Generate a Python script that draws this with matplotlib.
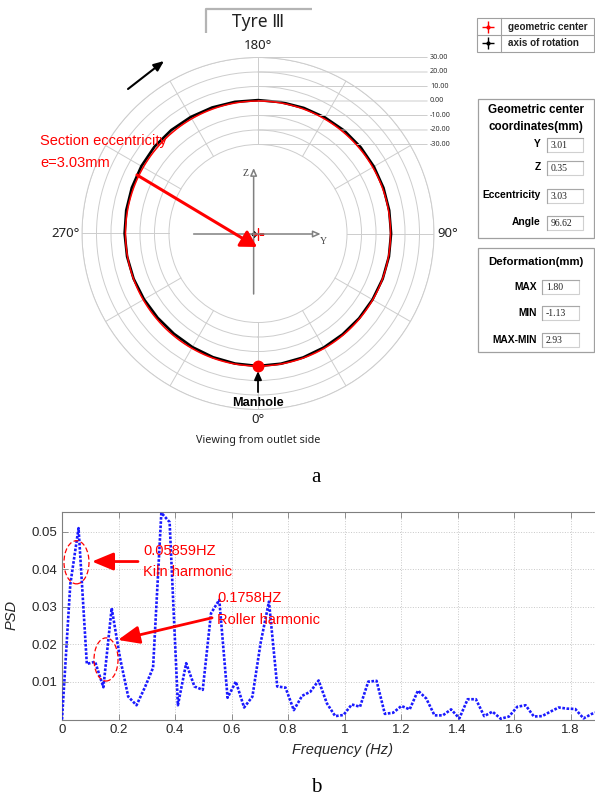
import numpy as np
import matplotlib
matplotlib.use("Agg")
import matplotlib.pyplot as plt
from matplotlib.patches import Rectangle, Ellipse

# ---------------- data ----------------
# panel a: measured tyre section, deviation from the fitted circle (mm), every 10 deg
prof_angle = list(range(0, 370, 10))
prof_dev = [0.0, -0.2, -0.4, -0.6, -0.6, -0.4, -0.2, 0.1, 0.3, 0.4,
            0.5, 0.7, 0.9, 1.1, 1.2, 1.0, 0.8, 0.6, 0.6, 0.8,
            1.1, 1.4, 1.7, 1.8, 1.5, 1.2, 0.9, 0.6, 0.3, -0.1,
            -0.6, -1.0, -1.13, -0.9, -0.6, -0.3, 0.0]
fit_r = 0.0
ring_vals = [30, 20, 10, 0, -10, -20, -30]
ring_labels = ["30.00", "20.00", "10.00", "0.00", "-10.00", "-20.00", "-30.00"]
r_centre = -91.4          # ring value at the centre of the plot
theta_ticks = [0, 90, 180, 270]
theta_labels = ["0°", "90°", "180°", "270°"]
ecc = 3.03
ecc_angle = 96.62
centre_rows = [("Y", "3.01"), ("Z", "0.35"), ("Eccentricity", "3.03"), ("Angle", "96.62")]
deform_rows = [("MAX", "1.80"), ("MIN", "-1.13"), ("MAX-MIN", "2.93")]

# panel b: PSD, FFT bins of 30/1024 Hz
df = 30 / 1024
psd = [0.0, 0.036, 0.051, 0.0148, 0.0154, 0.0086, 0.0297, 0.0165, 0.0061, 0.0038,
       0.0085, 0.0138, 0.0551, 0.0526, 0.0038, 0.0150, 0.0088, 0.0079, 0.0283, 0.0319,
       0.0058, 0.0101, 0.0032, 0.0061, 0.0205, 0.0314, 0.0088, 0.0085, 0.0025, 0.0063,
       0.0074, 0.0104, 0.0043, 0.0009, 0.0012, 0.0040, 0.0034, 0.0101, 0.0103, 0.0015,
       0.0018, 0.0036, 0.0027, 0.0077, 0.0056, 0.0011, 0.0011, 0.0027, 0.0003, 0.0054,
       0.0054, 0.0009, 0.0021, 0.0002, 0.0008, 0.0034, 0.0038, 0.0008, 0.0009, 0.0021,
       0.0032, 0.0029, 0.0028, 0.0003, 0.0015, 0.0022]
freq = np.arange(len(psd)) * df
xticks = [0, 0.2, 0.4, 0.6, 0.8, 1.0, 1.2, 1.4, 1.6, 1.8]
xticklabels = ["0", "0.2", "0.4", "0.6", "0.8", "1", "1.2", "1.4", "1.6", "1.8"]
yticks = [0.01, 0.02, 0.03, 0.04, 0.05]

sans = ["Noto Sans", "DejaVu Sans"]
arial = ["Liberation Sans", "DejaVu Sans"]
serif = ["Liberation Serif", "DejaVu Serif"]
plt.rcParams["font.family"] = sans

W, H = 595, 801
fig = plt.figure(figsize=(W / 100, H / 100), dpi=100)


def box(x0, y0, x1, y1):
    # pixel box (top-left origin) -> figure fraction
    return [x0 / W, 1 - y1 / H, (x1 - x0) / W, (y1 - y0) / H]


grid_c = "#cdcdcd"

# ---------------- panel a ----------------
pax = fig.add_axes(box(82, 57.5, 434, 409.5), projection="polar")
pax.set_theta_zero_location("S")
pax.set_theta_direction(1)
pax.set_rlim(r_centre, 30)
pax.set_rgrids(ring_vals, labels=[""] * len(ring_vals))
pax.set_thetagrids([])
pax.xaxis.grid(False)
pax.yaxis.grid(True, color=grid_c, lw=0.7)
pax.spines["polar"].set_edgecolor(grid_c)
pax.spines["polar"].set_linewidth(0.7)
pax.spines["inner"].set_visible(False)

for a in range(0, 360, 30):
    pax.plot(np.deg2rad([a, a]), [-30, 30], color=grid_c, lw=0.7, zorder=1)

pax.plot(np.deg2rad(prof_angle), fit_r + np.array(prof_dev), color="black", lw=1.9, zorder=3)
th = np.linspace(0, 2 * np.pi, 361)
pax.plot(th, np.full_like(th, fit_r), color="red", lw=1.1, zorder=4)

# centres
rot_th = np.deg2rad(ecc_angle + 180)
pax.plot(rot_th, r_centre + ecc, marker="+", color="black", ms=5, mew=1, zorder=6)
pax.plot(rot_th, r_centre + ecc, marker="o", color="black", ms=2.5, zorder=6)
pax.plot(0, r_centre, marker="+", color="red", ms=9, mew=1, zorder=7)

# manhole
pax.plot(0, fit_r, "o", color="red", ms=7.5, zorder=6)
pax.annotate("", xy=(0, 3.5), xytext=(0, 18),
             arrowprops=dict(arrowstyle="-|>,head_length=0.5,head_width=0.22",
                             color="black", lw=1.3, shrinkA=0, shrinkB=0),
             annotation_clip=False)
pax.text(0, 25.5, "Manhole", ha="center", va="center", fontsize=9.2,
         fontweight="bold", family=arial)

offs = {0: ((0, -10), "center"), 90: ((3, 0), "left"),
        180: ((0, 12), "center"), 270: ((-2, 0), "right")}
for a, lab in zip(theta_ticks, theta_labels):
    (dx, dy), ha = offs[a]
    pax.annotate(lab, xy=(np.deg2rad(a), 30), xytext=(dx, dy), textcoords="offset pixels",
                 ha=ha, va="center", fontsize=9.5, color="#222222", annotation_clip=False)

for v, lab in zip(ring_vals, ring_labels):
    pax.annotate(lab, xy=(np.pi, v), xytext=(172, 0), textcoords="offset pixels",
                 ha="left", va="center", fontsize=5.2, color="#333333",
                 arrowprops=dict(arrowstyle="-", color=grid_c, lw=0.7,
                                 shrinkA=0, shrinkB=0, relpos=(0, 0.5)),
                 annotation_clip=False)

# overlay in pixel coordinates for the decorations
ov = fig.add_axes([0, 0, 1, 1], zorder=10)
ov.set_xlim(0, W)
ov.set_ylim(H, 0)
ov.axis("off")

ox, oy = pax.transData.transform((rot_th, r_centre + ecc))
oy = H - oy
ax_c = "#808080"
ov.annotate("", xy=(ox + 67, oy), xytext=(ox - 60, oy),
            arrowprops=dict(arrowstyle="-|>,head_length=0.45,head_width=0.2",
                            ec=ax_c, fc="white", lw=1.1, shrinkA=0, shrinkB=0))
ov.annotate("", xy=(ox, oy - 66), xytext=(ox, oy + 60),
            arrowprops=dict(arrowstyle="-|>,head_length=0.45,head_width=0.2",
                            ec=ax_c, fc="white", lw=1.1, shrinkA=0, shrinkB=0))
ov.text(ox + 70, oy + 7, "Y", fontsize=7, family=serif, color="#444444", ha="center", va="center")
ov.text(ox - 8, oy - 61, "Z", fontsize=7, family=serif, color="#444444", ha="center", va="center")

# eccentricity arrow and text
ov.annotate("", xy=(257, 247), xytext=(137, 175),
            arrowprops=dict(arrowstyle="-|>,head_length=0.95,head_width=0.55",
                            color="red", lw=2.2, shrinkA=0, shrinkB=0))
ov.text(40, 141, "Section eccentricity", color="red", fontsize=10.5, family=arial, va="center")
ov.text(40, 163, "e=3.03mm", color="red", fontsize=10.5, family=arial, va="center")

# rotation direction arrow
ov.annotate("", xy=(164, 61), xytext=(128, 89),
            arrowprops=dict(arrowstyle="-|>,head_length=0.6,head_width=0.25",
                            color="black", lw=1.5, shrinkA=0, shrinkB=0))

ov.text(258, 440, "Viewing from outlet side", ha="center", va="center", fontsize=7.8, color="#222222")

# title tab
ov.plot([206, 206, 312], [33, 9, 9], color="#b4b4b4", lw=1.6, solid_capstyle="butt")
ov.text(258, 22, "Tyre Ⅲ", ha="center", va="center", fontsize=12.5, color="#222222")

# legend table
ov.add_patch(Rectangle((477, 18), 117, 34, fill=False, ec="#a0a0a0", lw=0.8))
ov.plot([477, 594], [35, 35], color="#a0a0a0", lw=0.8)
ov.plot([501, 501], [18, 52], color="#a0a0a0", lw=0.8)
ov.plot(488, 27, marker="+", color="red", ms=8, mew=1)
ov.plot(488, 27, marker="o", color="red", ms=2)
ov.plot(488, 43, marker="+", color="black", ms=8, mew=1)
ov.plot(488, 43, marker="o", color="black", ms=2)
ov.text(508, 27, "geometric center", fontsize=7.1, fontweight="bold", family=arial,
        va="center", color="#222222")
ov.text(508, 43, "axis of rotation", fontsize=7.1, fontweight="bold", family=arial,
        va="center", color="#222222")


def value_box(x0, y0, x1, y1, txt):
    ov.add_patch(Rectangle((x0, y0), x1 - x0, y1 - y0, fc="white", ec="#d0d0d0", lw=0.8))
    ov.plot([x0, x0, x1], [y1, y0, y0], color="#a8a8a8", lw=0.8)
    ov.text(x0 + 4, (y0 + y1) / 2 + 0.5, txt, fontsize=7, family=serif, va="center", color="#222222")


# geometric centre coordinates
ov.add_patch(Rectangle((478, 99), 116, 139, fill=False, ec="#a0a0a0", lw=0.9))
ov.text(536, 110, "Geometric center", ha="center", va="center", fontsize=8.4,
        fontweight="bold", family=arial)
ov.text(536, 127, "coordinates(mm)", ha="center", va="center", fontsize=8.4,
        fontweight="bold", family=arial)
for (lab, val), yc in zip(centre_rows, [144, 167, 195, 222]):
    ov.text(541, yc, lab, ha="right", va="center", fontsize=7.4, fontweight="bold", family=arial)
    value_box(547, yc - 6, 583, yc + 8, val)

# deformation
ov.add_patch(Rectangle((478, 248), 116, 104, fill=False, ec="#a0a0a0", lw=0.9))
ov.text(536, 262, "Deformation(mm)", ha="center", va="center", fontsize=8.2,
        fontweight="bold", family=arial)
for (lab, val), yc in zip(deform_rows, [287, 313, 340]):
    ov.text(537, yc, lab, ha="right", va="center", fontsize=7.4, fontweight="bold", family=arial)
    value_box(542, yc - 7, 579, yc + 7, val)

fig.text(316 / W, 1 - 477 / H, "a", family=serif, fontsize=15, ha="center", va="center")

# ---------------- panel b ----------------
bx = fig.add_axes(box(62, 512, 613, 719.5))
bx.plot(freq, psd, color="#1a1aff", lw=1.9, ls=(0, (1, 0.6)), zorder=3)
bx.set_xlim(0, 1.95)
bx.set_ylim(0, 0.0553)
bx.set_xticks(xticks)
bx.set_xticklabels(xticklabels, family=arial)
bx.set_yticks(yticks)
bx.set_yticklabels([f"{t:.2f}" for t in yticks], family=arial)
bx.tick_params(direction="in", top=True, right=True, length=4, width=0.6,
               color="#7f7f7f", labelsize=9.5, labelcolor="#262626")
for s in bx.spines.values():
    s.set_color("#7f7f7f")
    s.set_linewidth(0.8)
bx.grid(True, ls=":", color="#c8c8c8", lw=0.7)

bx.add_patch(Ellipse((0.0513, 0.0419), 0.0885, 0.0115, fill=False, ec="red",
                     ls=(0, (4, 2)), lw=0.9, zorder=4))
bx.add_patch(Ellipse((0.1558, 0.0160), 0.085, 0.0115, fill=False, ec="red",
                     ls=(0, (4, 2)), lw=0.9, zorder=4))
bx.annotate("", xy=(0.106, 0.0421), xytext=(0.269, 0.0421),
            arrowprops=dict(arrowstyle="-|>,head_length=1.3,head_width=0.54",
                            color="red", lw=2.0, shrinkA=0, shrinkB=0), zorder=5)
bx.annotate("", xy=(0.198, 0.0212), xytext=(0.531, 0.0271),
            arrowprops=dict(arrowstyle="-|>,head_length=1.3,head_width=0.54",
                            color="red", lw=2.0, shrinkA=0, shrinkB=0), zorder=5)
bx.text(0.2867, 0.0449, "0.05859HZ", color="red", fontsize=10.5, family=arial, va="center")
bx.text(0.2867, 0.0393, "Kiln harmonic", color="red", fontsize=10.5, family=arial, va="center")
bx.text(0.5487, 0.0324, "0.1758HZ", color="red", fontsize=10.5, family=arial, va="center")
bx.text(0.5487, 0.0265, "Roller harmonic", color="red", fontsize=10.5, family=arial, va="center")

fig.text(342 / W, 1 - 750 / H, "Frequency (Hz)", style="italic", family=arial, fontsize=10.5,
         color="#262626", ha="center", va="center")
fig.text(12 / W, 1 - 615 / H, "PSD", style="italic", family=arial, fontsize=10.5,
         color="#262626", rotation=90, ha="center", va="center")
fig.text(316 / W, 1 - 787 / H, "b", family=serif, fontsize=15, ha="center", va="center")

fig.savefig("out.png", dpi=100)
